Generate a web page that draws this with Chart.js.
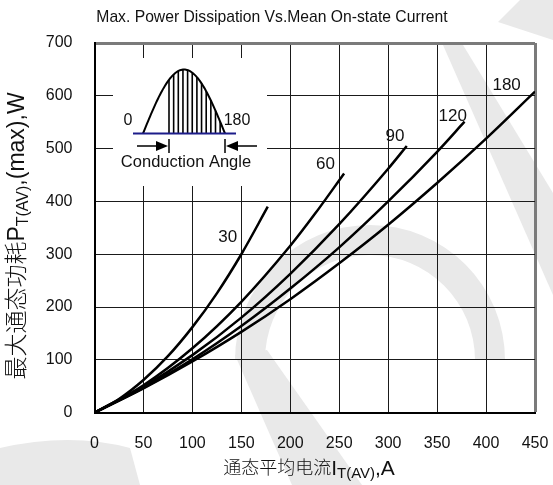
<!DOCTYPE html>
<html>
<head>
<meta charset="utf-8">
<script src="https://cdn.jsdelivr.net/npm/chart.js@4.4.1/dist/chart.umd.min.js"></script>
<style>
  html, body { margin: 0; padding: 0; background: #fff; }
  canvas { display: block; }
</style>
</head>
<body>
<canvas id="myChart" width="553" height="485"></canvas>
<script>
// conduction angles, one curve each
const angles = ['30', '60', '90', '120', '180'];

// mean on-state current (A) and max power dissipation (W) for each angle
const current30 = [0, 25, 50, 75, 100, 125, 150, 177];
const power30 = [0, 26, 62, 107, 162, 226, 300, 390];
const current60 = [0, 50, 100, 150, 200, 225, 255];
const power60 = [0, 52, 122, 210, 316, 376, 453];
const current90 = [0, 50, 100, 150, 200, 250, 300, 319];
const power90 = [0, 49, 109, 180, 263, 357, 462, 505];
const current120 = [0, 50, 100, 150, 200, 250, 300, 350, 378];
const power120 = [0, 47, 101, 164, 235, 313, 400, 494, 551];
const current180 = [0, 50, 100, 150, 200, 250, 300, 350, 400, 450];
const power180 = [0, 46, 97, 153, 215, 283, 356, 435, 519, 608];

// axis ticks
const xTicks = [0, 50, 100, 150, 200, 250, 300, 350, 400, 450];
const yTicks = [0, 100, 200, 300, 400, 500, 600, 700];

// where each angle name sits, in axis units
const tagX = [136, 236, 307, 366, 421];
const tagY = [333, 470, 524, 562, 619];

const LATIN = '"Liberation Sans", Arial, sans-serif';
const MIXED = '"Liberation Sans", "Noto Sans CJK SC", sans-serif';

const curves = [
  [current30, power30],
  [current60, power60],
  [current90, power90],
  [current120, power120],
  [current180, power180]
];

const datasets = curves.map(([xs, ys], i) => ({
  label: angles[i],
  data: xs.map((x, k) => ({ x: x, y: ys[k] })),
  borderColor: '#000',
  borderWidth: 2.5,
  pointRadius: 0,
  fill: false,
  cubicInterpolationMode: 'monotone'
}));

// text with a subscript part, laid out left to right and centred on (0,0)
function richText(c, parts) {
  let total = 0;
  parts.forEach(p => {
    c.font = '300 ' + p.size + 'px ' + MIXED;
    p.w = c.measureText(p.t).width;
    total += p.w;
  });
  let x = -total / 2;
  c.textAlign = 'left';
  c.textBaseline = 'middle';
  parts.forEach(p => {
    c.font = '300 ' + p.size + 'px ' + MIXED;
    c.fillText(p.t, x, p.dy || 0);
    x += p.w;
  });
}

const decor = {
  id: 'decor',
  beforeDraw(chart) {
    const c = chart.ctx;
    c.save();
    c.fillStyle = '#fff';
    c.fillRect(0, 0, chart.width, chart.height);
    // faint logo behind the plot
    c.fillStyle = '#e9e9e9';
    c.beginPath();
    c.arc(370, 360, 135, Math.PI, 2 * Math.PI);
    c.arc(370, 360, 105, 2 * Math.PI, Math.PI, true);
    c.closePath();
    c.fill();
    c.beginPath();
    c.moveTo(235, 355); c.lineTo(267, 350); c.lineTo(362, 485); c.lineTo(292, 485);
    c.closePath(); c.fill();
    c.beginPath();
    c.moveTo(443, 45); c.lineTo(463, 45); c.lineTo(553, 193); c.lineTo(553, 295);
    c.closePath(); c.fill();
    c.beginPath();
    c.moveTo(520, 0); c.lineTo(553, 0); c.lineTo(553, 40); c.lineTo(498, 22);
    c.closePath(); c.fill();
    c.beginPath();
    c.moveTo(0, 448); c.quadraticCurveTo(70, 432, 130, 448); c.lineTo(140, 485); c.lineTo(0, 485);
    c.closePath(); c.fill();
    c.restore();
  },
  beforeDatasetsDraw(chart) {
    const c = chart.ctx;
    c.save();
    // inset: half sine wave with conduction angle
    c.fillStyle = '#fff';
    c.fillRect(113, 58, 154, 128);
    const base = 133.5, x0 = 143, x1 = 225, peak = 64;
    const hump = x => base - peak * Math.sin(Math.PI * (x - x0) / (x1 - x0));
    c.strokeStyle = '#000';
    c.lineWidth = 1.6;
    for (let x = 169; x <= 225; x += 4.65) {
      c.beginPath();
      c.moveTo(x, base);
      c.lineTo(x, hump(x));
      c.stroke();
    }
    c.lineWidth = 2;
    c.beginPath();
    for (let x = x0; x <= x1; x += 1) {
      if (x === x0) c.moveTo(x, hump(x)); else c.lineTo(x, hump(x));
    }
    c.stroke();
    c.strokeStyle = '#1c1c8a';
    c.beginPath();
    c.moveTo(133, base); c.lineTo(236, base);
    c.stroke();
    // arrows
    c.strokeStyle = '#000';
    c.fillStyle = '#000';
    c.lineWidth = 1.5;
    c.beginPath();
    c.moveTo(137, 146); c.lineTo(160, 146);
    c.moveTo(169, 139); c.lineTo(169, 153);
    c.moveTo(225, 139); c.lineTo(225, 153);
    c.moveTo(234, 146); c.lineTo(257, 146);
    c.stroke();
    c.beginPath();
    c.moveTo(168, 146); c.lineTo(156, 141); c.lineTo(156, 151); c.closePath(); c.fill();
    c.beginPath();
    c.moveTo(226, 146); c.lineTo(238, 141); c.lineTo(238, 151); c.closePath(); c.fill();
    c.fillStyle = '#111';
    c.font = '16px ' + LATIN;
    c.textAlign = 'center';
    c.textBaseline = 'middle';
    c.fillText('0', 128, 121);
    c.fillText('180', 237, 121);
    c.font = '16.5px ' + LATIN;
    c.fillText('Conduction Angle', 186, 162);
    c.restore();
  },
  afterDraw(chart) {
    const c = chart.ctx;
    const xs = chart.scales.x, ys = chart.scales.y;
    c.save();
    c.fillStyle = '#111';
    // angle names next to the curve ends
    c.font = '17px ' + LATIN;
    c.textAlign = 'center';
    c.textBaseline = 'middle';
    angles.forEach((a, i) => {
      c.fillText(a, xs.getPixelForValue(tagX[i]), ys.getPixelForValue(tagY[i]));
    });
    // chart title
    c.font = '15.7px ' + LATIN;
    c.textBaseline = 'alphabetic';
    c.fillText('Max. Power Dissipation Vs.Mean On-state Current', 272, 22);
    // x axis title
    c.save();
    c.translate(309, 469);
    richText(c, [
      { t: '通态平均电流', size: 18 },
      { t: 'I', size: 21 },
      { t: 'T(AV)', size: 15, dy: 5 },
      { t: ',A', size: 21 }
    ]);
    c.restore();
    // y axis title
    c.save();
    c.translate(18, 236);
    c.rotate(-Math.PI / 2);
    richText(c, [
      { t: '最大通态功耗', size: 23 },
      { t: 'P', size: 23 },
      { t: 'T(AV)', size: 16, dy: 6 },
      { t: ',(max),W', size: 23 }
    ]);
    c.restore();
    c.restore();
  }
};

new Chart(document.getElementById('myChart'), {
  type: 'line',
  data: { datasets: datasets },
  plugins: [decor],
  options: {
    responsive: false,
    animation: false,
    devicePixelRatio: 1,
    layout: { padding: { top: 43, right: 18, left: 0, bottom: 0 } },
    plugins: { legend: { display: false }, tooltip: { enabled: false } },
    scales: {
      x: {
        type: 'linear',
        min: 0,
        max: 450,
        afterFit: s => { s.height = 72.3; s.paddingLeft = 0; s.paddingRight = 0; },
        afterBuildTicks: s => { s.ticks = xTicks.map(v => ({ value: v })); },
        ticks: { color: '#111', padding: 21, font: { family: LATIN, size: 16 } },
        grid: {
          drawTicks: false,
          color: ctx => ctx.tick && ctx.tick.value === 450 ? '#7a7a7a' : '#1a1a1a',
          lineWidth: ctx => ctx.tick && ctx.tick.value === 450 ? 3 : 1
        },
        border: { color: '#000', width: 2 }
      },
      y: {
        min: 0,
        max: 700,
        afterFit: s => { s.width = 94.5; s.paddingTop = 0; s.paddingBottom = 0; },
        afterBuildTicks: s => { s.ticks = yTicks.map(v => ({ value: v })); },
        ticks: { color: '#111', padding: 22, font: { family: LATIN, size: 16 } },
        grid: {
          drawTicks: false,
          color: ctx => ctx.tick && ctx.tick.value === 700 ? '#7a7a7a' : '#1a1a1a',
          lineWidth: ctx => ctx.tick && ctx.tick.value === 700 ? 3 : 1
        },
        border: { color: '#000', width: 2 }
      }
    }
  }
});
</script>
</body>
</html>
